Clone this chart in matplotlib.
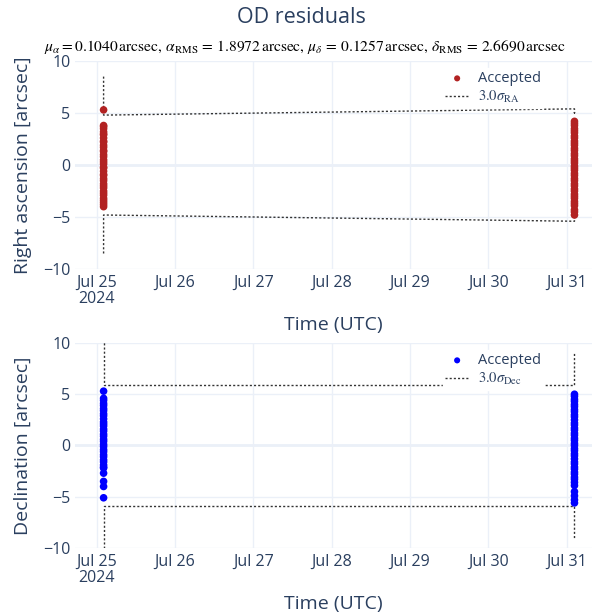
import matplotlib
matplotlib.use("Agg")
import matplotlib.pyplot as plt
import numpy as np

plt.rcParams['font.family'] = ['Open Sans', 'DejaVu Sans']
plt.rcParams['mathtext.fontset'] = 'stix'

# observation passes (UTC)
pass_times = np.array(['2024-07-25T02:05', '2024-07-31T02:25'], dtype='datetime64[m]')

# residuals [arcsec] per pass
ra_pass1 = [5.3, 3.8, 3.7, 3.5, 3.2, 3.0, 2.9, 2.6, 2.3, 2.2, 1.9, 1.7, 1.4, 1.3, 1.0,
            0.8, 0.5, 0.3, 0.1, -0.2, -0.3, -0.6, -0.9, -1.0, -1.3, -1.5, -1.8, -2.0,
            -2.2, -2.5, -2.7, -2.9, -3.2, -3.4, -3.6, -3.8, -4.0]
ra_pass2 = [4.2, 4.0, 3.8, 3.5, 3.3, 3.1, 2.8, 2.6, 2.3, 2.1, 1.9, 1.6, 1.4, 1.1, 0.9,
            0.6, 0.4, 0.2, -0.1, -0.3, -0.5, -0.8, -1.0, -1.3, -1.5, -1.8, -2.0, -2.3,
            -2.5, -2.8, -3.0, -3.2, -3.5, -3.7, -3.9, -4.3, -4.5, -4.8]
dec_pass1 = [5.3, 4.6, 4.4, 4.1, 3.9, 3.6, 3.4, 3.1, 2.9, 2.6, 2.3, 2.1, 1.9, 1.6, 1.4,
             1.1, 0.9, 0.6, 0.4, 0.1, -0.1, -0.4, -0.6, -0.9, -1.1, -1.4, -1.6, -1.9,
             -2.1, -2.2, -2.7, -3.5, -4.0, -5.1]
dec_pass2 = [5.0, 4.8, 4.5, 4.3, 4.0, 3.8, 3.5, 3.3, 3.0, 2.8, 2.5, 2.2, 2.0, 1.7, 1.5,
             1.2, 1.0, 0.7, 0.5, 0.2, 0.0, -0.3, -0.5, -0.8, -1.0, -1.3, -1.6, -1.8,
             -2.1, -2.3, -2.6, -2.8, -3.1, -3.3, -3.6, -3.9, -4.5, -4.9, -5.3, -5.6]

# 3-sigma bounds per pass [arcsec]
ra_sig_pass1 = [8.5, 7.1, 6.2, 5.5, 5.1, 4.9, 4.8]
ra_sig_pass2 = [5.4, 5.2, 5.0, 5.1, 5.3]
dec_sig_pass1 = [12.0, 9.3, 7.6, 6.7, 6.2, 5.9]
dec_sig_pass2 = [5.9, 6.4, 7.2, 8.1, 9.1]

stats_text = (r'$\mu_\alpha = 0.1040\,\mathrm{arcsec},\,\alpha_\mathrm{RMS}\,=\,1.8972\,\mathrm{arcsec},'
              r'\,\mu_\delta\,=\,0.1257\,\mathrm{arcsec},\,\delta_\mathrm{RMS}\,=\,2.6690\,\mathrm{arcsec}$')

xticks = np.array(['2024-07-25', '2024-07-26', '2024-07-27', '2024-07-28',
                   '2024-07-29', '2024-07-30', '2024-07-31'], dtype='datetime64[D]')
xticklabels = ['Jul 25\n2024', 'Jul 26', 'Jul 27', 'Jul 28', 'Jul 29', 'Jul 30', 'Jul 31']

TXT = '#2a3f5f'
GRID = '#EBF0F8'

fig = plt.figure(figsize=(6.03, 6.13), dpi=100)
ax1 = fig.add_axes([0.124, 0.561, 0.858, 0.3395])
ax2 = fig.add_axes([0.124, 0.106, 0.858, 0.3345])

fig.text(0.5, 0.971, 'OD residuals', ha='center', va='center', fontsize=15.5, color=TXT)
fig.text(0.505, 0.924, stats_text, ha='center', va='center', fontsize=11.2, color='black')


def draw(ax, p1, p2, s1, s2, color, ylabel, siglabel):
    ax.scatter([pass_times[0]] * len(p1) + [pass_times[1]] * len(p2), p1 + p2,
               s=30, color=color, edgecolors='none', zorder=3, label='Accepted')
    sx = [pass_times[0]] * len(s1) + [pass_times[1]] * len(s2)
    ax.plot(sx, s1 + s2, color='#333333', lw=1, ls=(0, (1.5, 1.5)), zorder=2, label=siglabel)
    ax.plot(sx, [-v for v in s1 + s2], color='#333333', lw=1, ls=(0, (1.5, 1.5)), zorder=2)
    ax.set_ylim(-10, 10)
    ax.set_xlim(np.datetime64('2024-07-24T17:15'), np.datetime64('2024-07-31T07:50'))
    ax.set_yticks([-10, -5, 0, 5, 10])
    ax.set_yticklabels(['\u221210', '\u22125', '0', '5', '10'])
    ax.set_xticks(xticks)
    ax.set_xticklabels(xticklabels, linespacing=1.05)
    for s in ax.spines.values():
        s.set_visible(False)
    ax.grid(True, color=GRID, lw=1, zorder=0)
    ax.axhline(0, color=GRID, lw=2, zorder=1)
    ax.tick_params(length=0, labelsize=11.5, labelcolor=TXT)
    ax.tick_params(axis='y', pad=3)
    ax.tick_params(axis='x', pad=4)
    ax.set_xlabel('Time (UTC)', fontsize=14, color=TXT, labelpad=6)
    ax.set_ylabel(ylabel, fontsize=14, color=TXT, labelpad=8)
    ax.set_axisbelow(True)
    leg = ax.legend(loc='upper right', bbox_to_anchor=(0.92, 1.0), frameon=True,
                    fancybox=False, framealpha=1, edgecolor='white', fontsize=10.5,
                    handlelength=1.6, handletextpad=0.6, borderpad=0.2, labelspacing=0.2,
                    markerscale=0.8)
    for t in leg.get_texts():
        t.set_color(TXT)


draw(ax1, ra_pass1, ra_pass2, ra_sig_pass1, ra_sig_pass2, '#B22222',
     'Right ascension [arcsec]', r'$3.0\sigma_\mathrm{RA}$')
draw(ax2, dec_pass1, dec_pass2, dec_sig_pass1, dec_sig_pass2, '#0000FF',
     'Declination [arcsec]', r'$3.0\sigma_\mathrm{Dec}$')

fig.savefig('out.png', dpi=100)
